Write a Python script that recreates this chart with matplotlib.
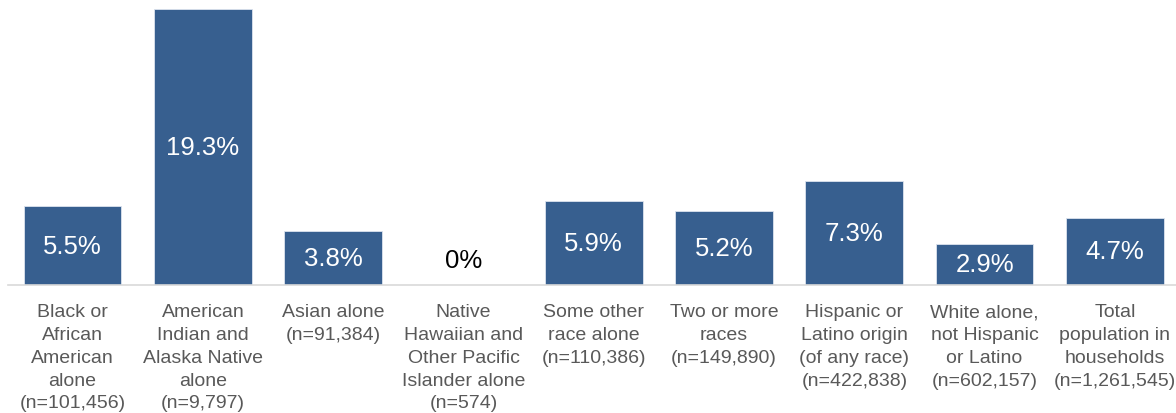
import matplotlib.pyplot as plt

plt.rcParams['font.family'] = ['Liberation Sans', 'DejaVu Sans']

categories = [
    "Black or\nAfrican\nAmerican\nalone\n(n=101,456)",
    "American\nIndian and\nAlaska Native\nalone\n(n=9,797)",
    "Asian alone\n(n=91,384)",
    "Native\nHawaiian and\nOther Pacific\nIslander alone\n(n=574)",
    "Some other\nrace alone\n(n=110,386)",
    "Two or more\nraces\n(n=149,890)",
    "Hispanic or\nLatino origin\n(of any race)\n(n=422,838)",
    "White alone,\nnot Hispanic\nor Latino\n(n=602,157)",
    "Total\npopulation in\nhouseholds\n(n=1,261,545)",
]
values = [5.5, 19.3, 3.8, 0, 5.9, 5.2, 7.3, 2.9, 4.7]
value_labels = ["5.5%", "19.3%", "3.8%", "0%", "5.9%", "5.2%", "7.3%", "2.9%", "4.7%"]

bar_color = "#375f8f"
label_color = "#595959"

fig = plt.figure(figsize=(11.76, 4.14), dpi=100)
ax = fig.add_axes([8 / 1176, 128 / 414, 1168 / 1176, 286 / 414])

x = range(len(values))
bars = ax.bar(x, values, width=0.75, color=bar_color, edgecolor="#dce3ee", linewidth=0.6)

# percentages sit in the middle of each bar; the empty one gets a black label
for xi, v, lab in zip(x, values, value_labels):
    if v > 0:
        ax.text(xi, v / 2, lab, ha="center", va="center", color="white", fontsize=18.5)
    else:
        ax.text(xi, 1.75, lab, ha="center", va="center", color="black", fontsize=18.5)

ax.set_xlim(-0.496, 8.469)
ax.set_ylim(0, 20.0)
ax.set_xticks(list(x))
ax.set_xticklabels(categories, color=label_color, fontsize=14, linespacing=1.45)
ax.tick_params(axis="x", length=0, pad=13)
ax.set_yticks([])

for side in ["top", "right", "left"]:
    ax.spines[side].set_visible(False)
ax.spines["bottom"].set_color("#d9d9d9")
ax.spines["bottom"].set_linewidth(1.2)

fig.savefig("out.png", dpi=100)
